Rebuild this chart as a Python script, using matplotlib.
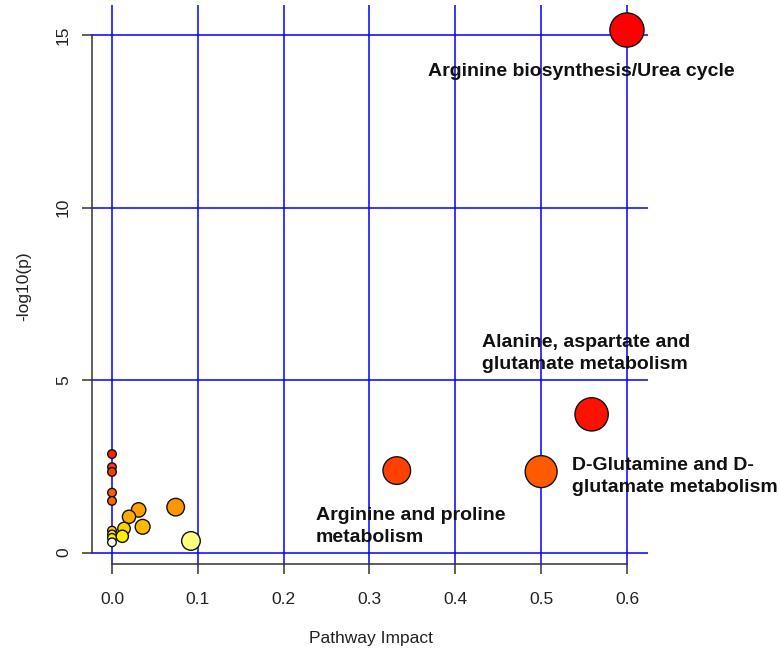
import numpy as np
import matplotlib
matplotlib.use("Agg")
import matplotlib.pyplot as plt

# ---- data ----
pathway_impact = [0.600, 0.5588, 0.500, 0.3318,
                  0.0, 0.0, 0.0, 0.0, 0.0, 0.0, 0.0, 0.0, 0.0,
                  0.012, 0.014, 0.0198, 0.031, 0.0357, 0.0742, 0.092]
neg_log10_p = [15.15, 4.01, 2.35, 2.38,
               2.86, 2.48, 2.34, 1.74, 1.50, 0.64, 0.53, 0.43, 0.30,
               0.475, 0.70, 1.04, 1.24, 0.75, 1.32, 0.34]
point_colors = ["#FF0000", "#FF1000", "#FF5A00", "#FF4000",
                "#FF2400", "#FF3200", "#FF3C00", "#FF5A00", "#FF6400",
                "#FFC800", "#FFE000", "#FFF000", "#FFFFF0",
                "#FFF000", "#FFD200", "#FFAA00", "#FFA000", "#FFBA00",
                "#FF9600", "#FFFF80"]
labels = ["Arginine biosynthesis/Urea cycle",
          "Alanine, aspartate and\nglutamate metabolism",
          "D-Glutamine and D-\nglutamate metabolism",
          "Arginine and proline\nmetabolism"]
# label offsets (pixels) relative to the labelled point
label_offsets = [(-199, -41), (-110, 61), (31, -5), (-81, -56)]

x_ticks = [0.0, 0.1, 0.2, 0.3, 0.4, 0.5, 0.6]
x_tick_labels = ["0.0", "0.1", "0.2", "0.3", "0.4", "0.5", "0.6"]
y_ticks = [0, 5, 10, 15]
y_tick_labels = ["0", "5", "10", "15"]

plt.rcParams['font.family'] = ['Liberation Sans', 'DejaVu Sans']

DPI = 100
fig = plt.figure(figsize=(7.8, 6.5), dpi=DPI)
ax = fig.add_axes([92 / 780, 86 / 650, 556 / 780, 559 / 650])

ax.set_xlim(-0.0233, 0.6245)
ax.set_ylim(-0.328, 15.875)

x = np.array(pathway_impact)
y = np.array(neg_log10_p)
radius_px = 4.3 + 16.5 * np.sqrt(x)
sizes = (2 * radius_px * 72 / DPI) ** 2
order = np.argsort(-y, kind="stable")
ax.scatter(x[order], y[order], s=sizes[order],
           c=[point_colors[i] for i in order],
           edgecolors="#111111", linewidths=1.0, zorder=3, clip_on=False)

for i, (lab, off) in enumerate(zip(labels, label_offsets)):
    ax.annotate(lab, xy=(x[i], y[i]), xytext=off, textcoords="offset pixels",
                ha="left", va="center", fontsize=14, fontweight="bold",
                color="#111111", linespacing=1.35, zorder=4,
                annotation_clip=False)

ax.set_xticks(x_ticks)
ax.set_xticklabels(x_tick_labels)
ax.set_yticks(y_ticks)
ax.set_yticklabels(y_tick_labels, rotation=90, va="center")
ax.grid(True, color="#0000FF", linewidth=1.1, zorder=1)
ax.set_axisbelow(True)

for s in ["top", "right"]:
    ax.spines[s].set_visible(False)
ax.spines["left"].set_bounds(0, 15)
ax.spines["bottom"].set_bounds(0, 0.6)
for s in ["left", "bottom"]:
    ax.spines[s].set_color("#333333")
    ax.spines[s].set_linewidth(1.1)

ax.tick_params(axis="both", length=7.2, width=1.1, color="#333333",
               labelsize=12.5, labelcolor="#222222")
ax.tick_params(axis="x", pad=13)
ax.tick_params(axis="y", pad=8)

fig.text(371 / 780, 1 - 639 / 650, "Pathway Impact", ha="center", va="center",
         fontsize=12.5, color="#222222")
fig.text(24 / 780, 1 - 286 / 650, "-log10(p)", ha="center", va="center",
         rotation=90, fontsize=12.5, color="#222222")

fig.savefig("out.png", dpi=DPI, facecolor="white")
